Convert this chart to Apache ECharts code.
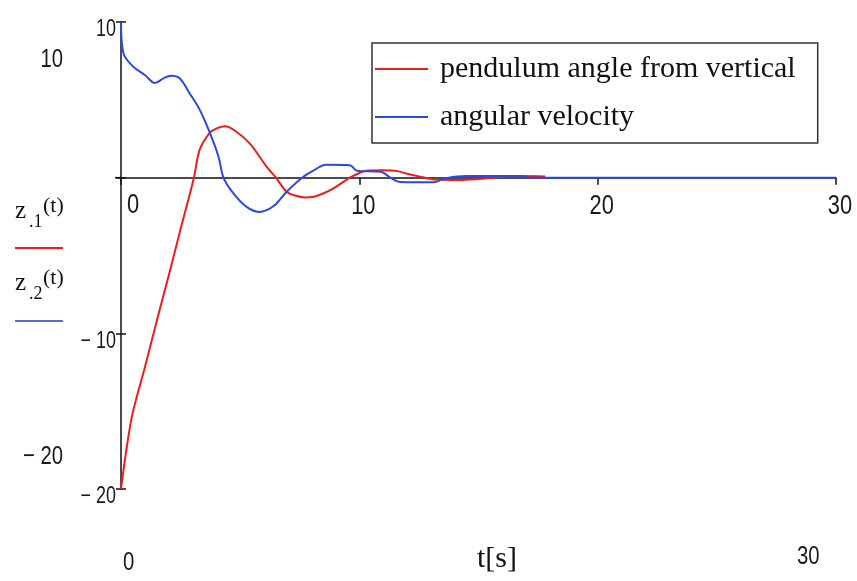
<!DOCTYPE html>
<html>
<head>
<meta charset="utf-8">
<script src="https://cdn.jsdelivr.net/npm/echarts@6/dist/echarts.min.js"></script>
<style>
  html, body { margin: 0; padding: 0; background: #ffffff; }
  #chart { width: 857px; height: 581px; }
</style>
</head>
<body>
<div id="chart"></div>
<script>
// Pendulum response: angle z1(t) and angular velocity z2(t)
const angleTime = [0, 0.45, 1, 1.5, 2, 2.5, 3.06, 3.3, 3.73, 4.0, 4.36, 4.8, 5.4, 6.1, 6.5, 6.95, 7.3, 7.7, 8.1, 8.5, 8.9, 9.3, 9.6, 10.0, 10.3, 11.0, 11.6, 12.0, 12.6, 13.2, 14.2, 15.0, 15.6, 16.2, 16.8, 17.8];
const angleValue = [-20, -15.4, -12.2, -9.2, -6.3, -3.3, 0, 1.8, 2.9, 3.15, 3.3, 3.0, 2.2, 0.73, 0, -0.9, -1.15, -1.27, -1.22, -1.0, -0.7, -0.3, 0, 0.3, 0.45, 0.47, 0.42, 0.25, 0.05, -0.12, -0.15, -0.08, 0, 0.07, 0.1, 0.08];

const velocityTime = [0, 0.1, 0.5, 1.0, 1.43, 1.8, 2.1, 2.45, 2.87, 3.3, 3.73, 4.1, 4.3, 4.7, 5.27, 5.8, 6.39, 6.95, 7.6, 8.07, 8.6, 9.6, 9.9, 10.9, 11.3, 11.7, 13.1, 13.6, 14.5, 16.6, 17.2, 30];
const velocityValue = [10, 8.0, 7.15, 6.6, 6.08, 6.4, 6.55, 6.4, 5.44, 4.37, 2.87, 1.3, 0, -0.98, -1.88, -2.2, -1.84, -0.9, 0, 0.45, 0.83, 0.8, 0.45, 0.38, 0, -0.28, -0.3, -0.05, 0.1, 0.1, 0, 0];

const seriesNames = ['pendulum angle from vertical', 'angular velocity'];
const seriesColors = ['#f01c1c', '#2a48e6'];

const xRange = [0, 30];
const yRange = [-20, 10];
const tickStep = 10;
const xTickValues = [0, 10, 20, 30];
const yTickValues = [10, -10, -20];

const digitFont = "'Liberation Sans', Arimo, sans-serif";
const serifFont = "'Liberation Serif', 'DejaVu Serif', serif";
const digitSquash = 0.78;

function pairs(xs, ys) { return xs.map((x, i) => [x, ys[i]]); }
function fmtNum(v) {
  return v < 0 ? '\u2212 ' + Math.abs(v) : String(v);
}
function digits(x, y, text, size, align) {
  return {
    type: 'text', x: x, y: y, scaleX: digitSquash, scaleY: 1,
    style: { x: 0, y: 0, text: text, font: size + 'px ' + digitFont, fill: '#1a1a1a',
             align: align, verticalAlign: 'middle' },
    silent: true
  };
}

const chart = echarts.init(document.getElementById('chart'), null, { renderer: 'canvas' });

const tickStyle = { color: '#111', width: 1.5 };

chart.setOption({
  animation: false,
  backgroundColor: '#ffffff',
  grid: { left: 121, top: 22, right: 21, bottom: 92, containLabel: false },
  legend: {
    data: seriesNames,
    orient: 'vertical',
    left: 372,
    top: 43,
    padding: [9, 22, 9, 3],
    borderColor: '#333',
    borderWidth: 1.5,
    icon: 'rect',
    itemWidth: 53,
    itemHeight: 2,
    itemGap: 14,
    selectedMode: false,
    textStyle: { fontFamily: serifFont, fontSize: 30, lineHeight: 34, color: '#111', padding: [0, 0, 0, 7] }
  },
  xAxis: [
    {
      type: 'value', min: xRange[0], max: xRange[1], interval: tickStep,
      axisLine: { show: true, onZero: true, lineStyle: tickStyle },
      axisTick: { show: true, length: 7, lineStyle: tickStyle },
      axisLabel: { show: false },
      splitLine: { show: false }
    },
    {
      type: 'value', min: xRange[0], max: xRange[1], interval: tickStep,
      axisLine: { show: false, onZero: true },
      axisTick: { show: true, inside: true, length: 7, lineStyle: tickStyle },
      axisLabel: { show: false },
      splitLine: { show: false }
    }
  ],
  yAxis: [
    {
      type: 'value', min: yRange[0], max: yRange[1], interval: tickStep,
      axisLine: { show: true, onZero: true, lineStyle: tickStyle },
      axisTick: { show: true, length: 5, lineStyle: tickStyle },
      axisLabel: { show: false },
      splitLine: { show: false }
    },
    {
      type: 'value', min: yRange[0], max: yRange[1], interval: tickStep, position: 'left',
      axisLine: { show: false, onZero: true },
      axisTick: { show: true, inside: true, length: 5, lineStyle: tickStyle },
      axisLabel: { show: false },
      splitLine: { show: false }
    }
  ],
  series: [
    {
      name: seriesNames[0], type: 'line', smooth: 0.3, showSymbol: false,
      xAxisIndex: 0, yAxisIndex: 0,
      data: pairs(angleTime, angleValue),
      lineStyle: { color: seriesColors[0], width: 2 },
      itemStyle: { color: seriesColors[0] },
      z: 3
    },
    {
      name: seriesNames[1], type: 'line', smooth: 0.35, showSymbol: false,
      xAxisIndex: 0, yAxisIndex: 0,
      data: pairs(velocityTime, velocityValue),
      lineStyle: { color: seriesColors[1], width: 2 },
      itemStyle: { color: seriesColors[1] },
      z: 4
    }
  ]
});

// Tick labels, placed with the axes' own scales
const zeroY = chart.convertToPixel({ yAxisIndex: 0 }, 0);
const zeroX = chart.convertToPixel({ xAxisIndex: 0 }, 0);
const labels = [];
xTickValues.forEach(v => {
  const px = chart.convertToPixel({ xAxisIndex: 0 }, v);
  if (v === 0) labels.push(digits(px + 6, zeroY + 28, String(v), 28, 'left'));
  else labels.push(digits(px + 4, zeroY + 29, String(v), 28, 'center'));
});
yTickValues.forEach(v => {
  const py = chart.convertToPixel({ yAxisIndex: 0 }, v);
  labels.push(digits(zeroX - 5, py + 8, fmtNum(v), 23, 'right'));
});

chart.setOption({
  graphic: labels.concat([
    // short lead-in of the horizontal axis left of the vertical axis
    { type: 'line', shape: { x1: zeroX - 6, y1: zeroY, x2: zeroX, y2: zeroY }, style: { stroke: '#111', lineWidth: 1.5 } },
    // range labels around the plot
    digits(63, 60, fmtNum(yRange[1]), 26, 'right'),
    digits(63, 457, fmtNum(yRange[0]), 26, 'right'),
    digits(123, 563, String(xRange[0]), 26, 'left'),
    digits(797, 557, String(xRange[1]), 26, 'left'),
    { type: 'text', left: 477, top: 544, style: { text: 't[s]', font: "30px " + serifFont, fill: '#111' } },
    // trace names with their line samples
    { type: 'text', left: 15, top: 199, style: { text: 'z', font: "25px " + serifFont, fill: '#111' } },
    { type: 'text', left: 29, top: 213, style: { text: '.1', font: "18px " + serifFont, fill: '#111' } },
    { type: 'text', left: 43, top: 195, style: { text: '(t)', font: "22px " + serifFont, fill: '#111' } },
    { type: 'line', shape: { x1: 15, y1: 248, x2: 63, y2: 248 }, style: { stroke: seriesColors[0], lineWidth: 2 } },
    { type: 'text', left: 15, top: 271, style: { text: 'z', font: "25px " + serifFont, fill: '#111' } },
    { type: 'text', left: 29, top: 285, style: { text: '.2', font: "18px " + serifFont, fill: '#111' } },
    { type: 'text', left: 43, top: 267, style: { text: '(t)', font: "22px " + serifFont, fill: '#111' } },
    { type: 'line', shape: { x1: 15, y1: 321, x2: 63, y2: 321 }, style: { stroke: '#5a6ad8', lineWidth: 2 } }
  ])
});
</script>
</body>
</html>
